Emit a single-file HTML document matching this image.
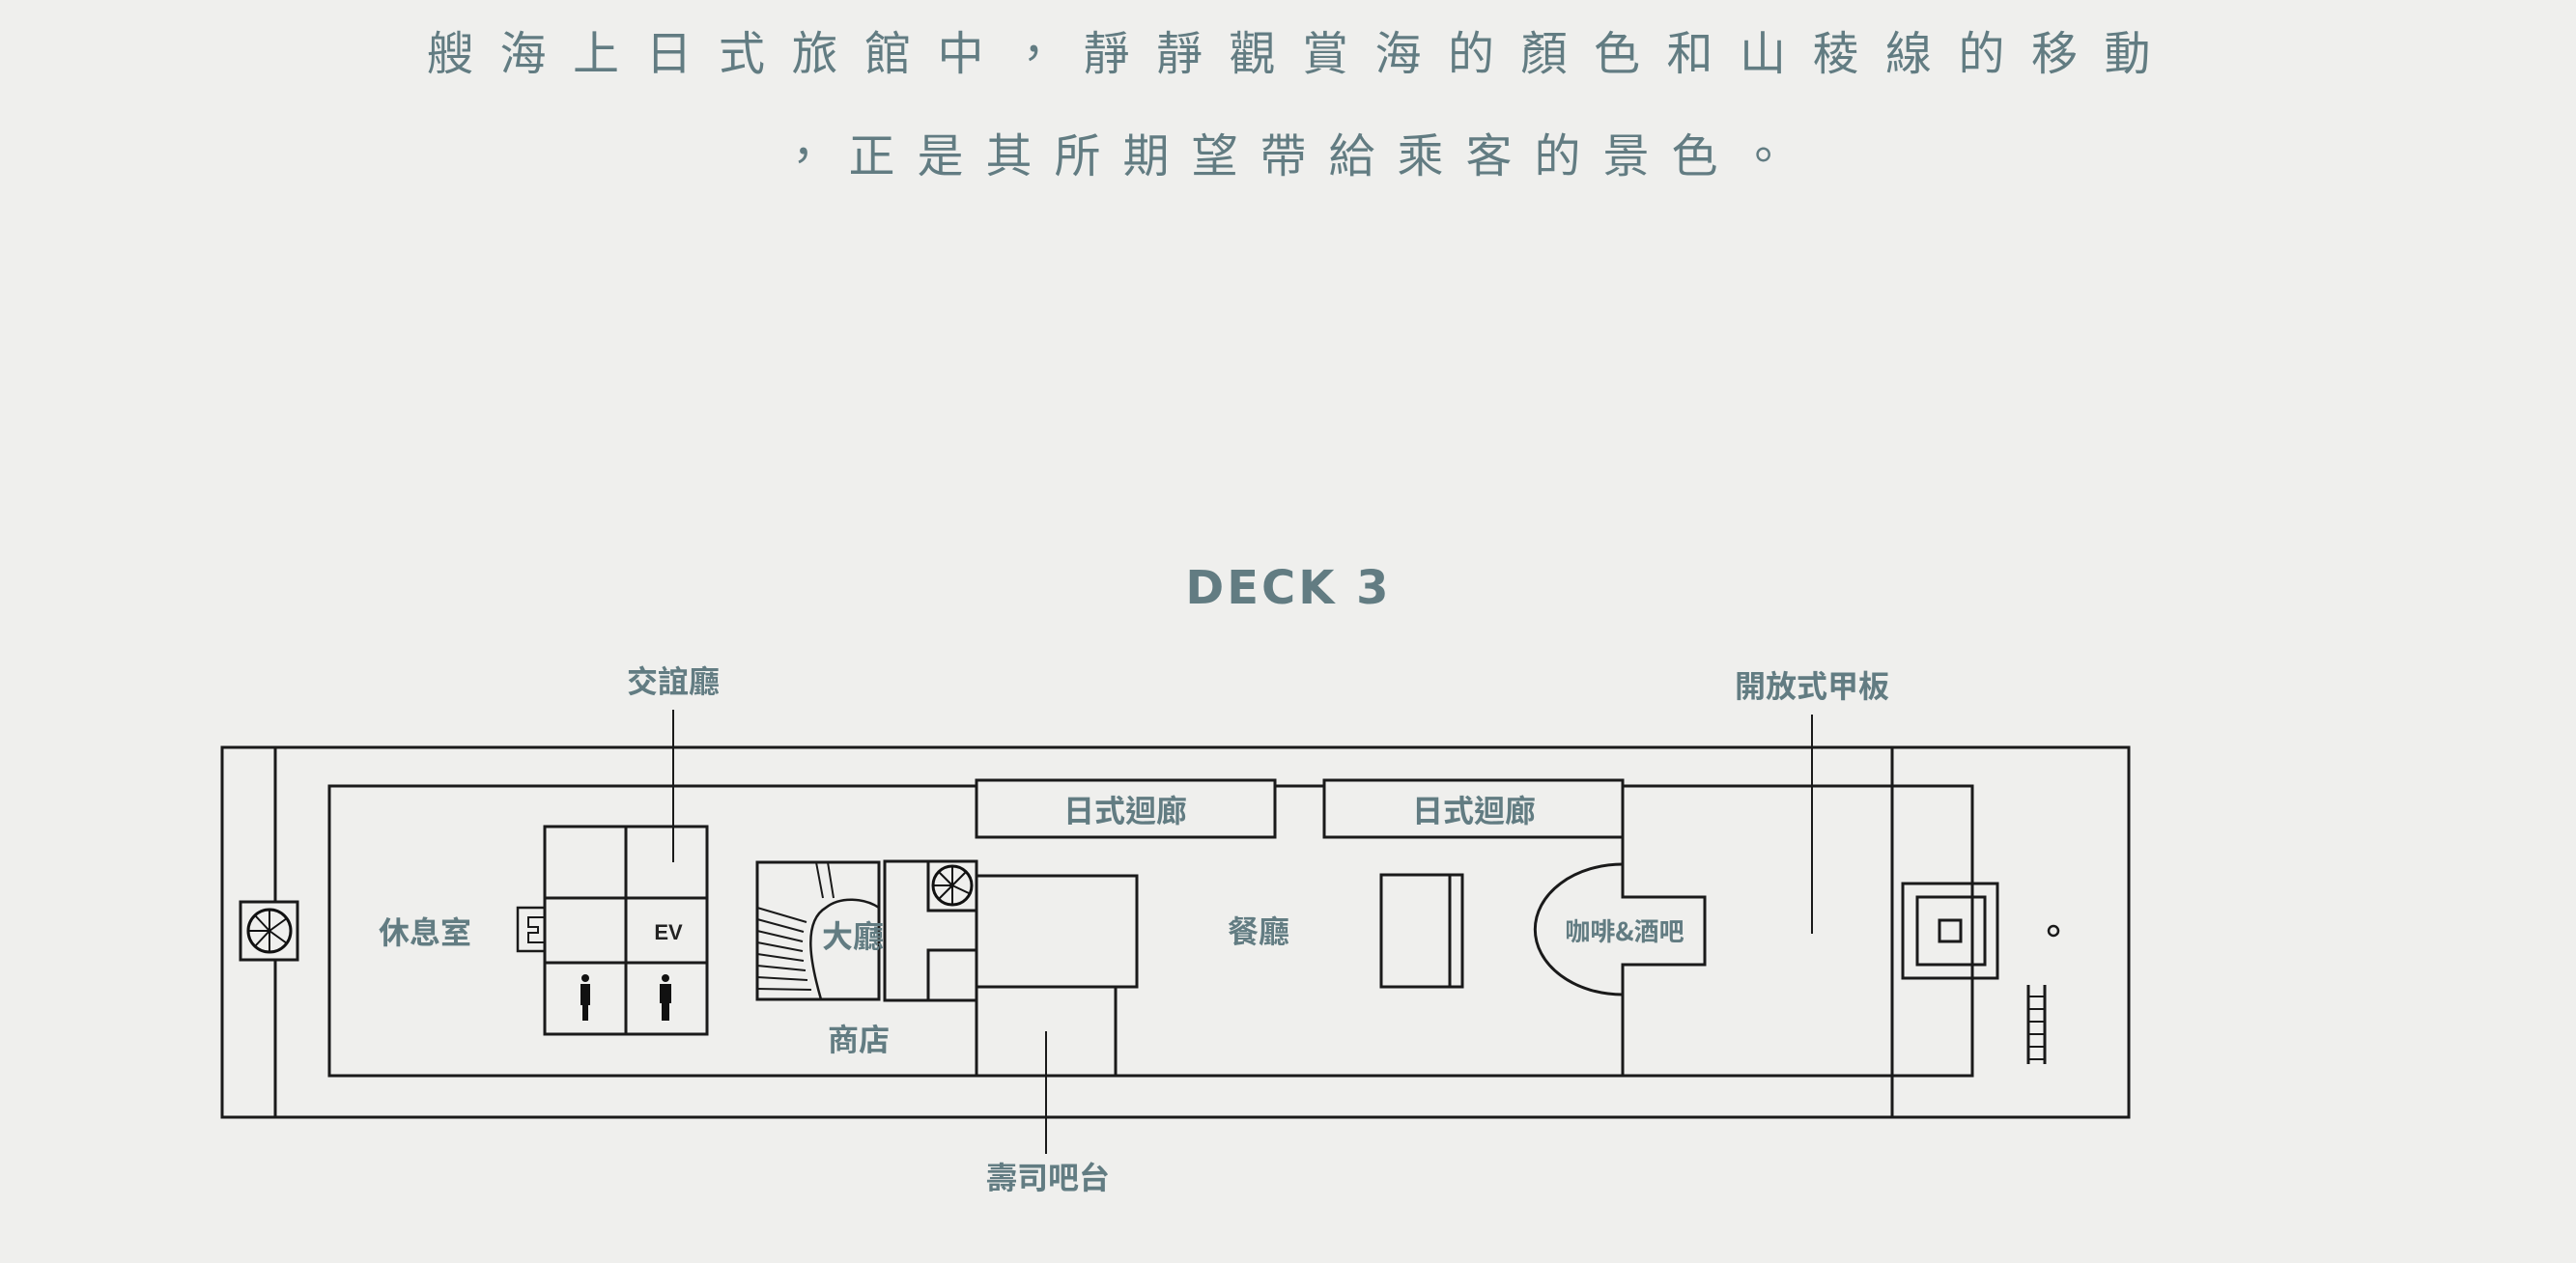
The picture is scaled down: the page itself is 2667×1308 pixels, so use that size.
<!DOCTYPE html>
<html><head><meta charset="utf-8"><style>
html,body{margin:0;padding:0;background:#efefed;}
svg{display:block}
text{font-family:"Noto Sans CJK TC","Liberation Sans",sans-serif;fill:#627c82;}
</style></head><body>
<svg width="2667" height="1308" viewBox="0 0 2667 1308" xmlns="http://www.w3.org/2000/svg">
<rect width="2667" height="1308" fill="#efefed"/>
<text x="1348" y="72" font-size="48" text-anchor="middle" letter-spacing="27.5" style="font-weight:400">艘海上日式旅館中，靜靜觀賞海的顏色和山稜線的移動</text>
<text x="1340" y="178" font-size="48" text-anchor="middle" letter-spacing="23" style="font-weight:400">，正是其所期望帶給乘客的景色。</text>
<text x="1334" y="625" font-size="48" font-weight="bold" text-anchor="middle" letter-spacing="3" style="font-family:'DejaVu Sans',sans-serif">DECK 3</text>
<g font-size="32" text-anchor="middle" font-weight="700">
<text x="697" y="717">交誼廳</text>
<text x="1876" y="722">開放式甲板</text>
<text x="1085" y="1231">壽司吧台</text>
</g>
<g stroke="#1a1a1a" fill="none" stroke-width="3">
<rect x="230" y="774" width="1974" height="383"/>
<line x1="285" y1="774" x2="285" y2="1157"/>
<line x1="1959" y1="774" x2="1959" y2="1157"/>
<path d="M1011 814 H341 V1114 H2042 V814 H1680"/>
<line x1="1320" y1="814" x2="1371" y2="814"/>
<rect x="1011" y="808" width="309" height="59" fill="#efefed"/>
<rect x="1371" y="808" width="309" height="59" fill="#efefed"/>
<rect x="249" y="934" width="59" height="60" fill="#efefed"/>
<rect x="564" y="856" width="168" height="215"/>
<line x1="648" y1="856" x2="648" y2="1071"/>
<line x1="564" y1="930" x2="732" y2="930"/>
<line x1="564" y1="997" x2="732" y2="997"/>
<path d="M564 940 H536 V985 H564" stroke-width="2.5"/>
<path d="M564 950 H547 V960 H557 V966 H547 V976 H564" stroke-width="2"/>
<rect x="784" y="893" width="126" height="142"/>
<path d="M845 893 L852 930 M857 893 L863 930" stroke-width="2"/>
<path d="M850 1035 C840 1000 830 955 855 940 C870 928 895 930 910 940" stroke-width="2.5"/>
<g stroke-width="2"><line x1="784" y1="940" x2="835" y2="955"/><line x1="784" y1="952" x2="832" y2="965"/><line x1="784" y1="964" x2="831" y2="975"/><line x1="784" y1="976" x2="831" y2="985"/><line x1="784" y1="988" x2="832" y2="995"/><line x1="784" y1="1000" x2="834" y2="1005"/><line x1="784" y1="1012" x2="836" y2="1015"/><line x1="784" y1="1024" x2="840" y2="1025"/></g>
<rect x="916" y="892" width="95" height="144"/>
<rect x="961" y="892" width="50" height="51"/>
<rect x="961" y="984" width="50" height="52"/>
<path d="M1011 907 H1177 V1022 H1011"/>
<rect x="1011" y="1022" width="144" height="92"/>
<rect x="1430" y="906" width="84" height="116"/>
<line x1="1501" y1="906" x2="1501" y2="1022"/>
<line x1="1680" y1="867" x2="1680" y2="895"/>
<line x1="1680" y1="1030" x2="1680" y2="1114"/>
<path d="M1680 895 A90 67 0 0 0 1680 1030"/>
<path d="M1680 895 V929 H1765 V999 H1680 V1030"/>
<rect x="1970" y="915" width="98" height="98"/>
<rect x="1985" y="929" width="70" height="70"/>
<rect x="2008" y="953" width="22" height="22"/>
<circle cx="2126" cy="964" r="5" stroke-width="2.5"/>
<line x1="2100" y1="1020" x2="2100" y2="1102"/><line x1="2117" y1="1020" x2="2117" y2="1102"/>
<g stroke-width="2"><line x1="2100" y1="1032" x2="2117" y2="1032"/><line x1="2100" y1="1045" x2="2117" y2="1045"/><line x1="2100" y1="1058" x2="2117" y2="1058"/><line x1="2100" y1="1071" x2="2117" y2="1071"/><line x1="2100" y1="1084" x2="2117" y2="1084"/><line x1="2100" y1="1097" x2="2117" y2="1097"/></g>
<g stroke-width="2"><line x1="697" y1="735" x2="697" y2="893"/><line x1="1876" y1="740" x2="1876" y2="967"/><line x1="1083" y1="1068" x2="1083" y2="1195"/></g>
</g>
<g stroke="#111" fill="none" stroke-width="3">
<circle cx="279" cy="964" r="22"/>
<g stroke-width="2"><line x1="279" y1="964" x2="279" y2="942"/><line x1="279" y1="964" x2="264" y2="948"/><line x1="279" y1="964" x2="257" y2="964"/><line x1="279" y1="964" x2="264" y2="980"/><line x1="279" y1="964" x2="279" y2="986"/><line x1="279" y1="964" x2="297" y2="951"/><line x1="279" y1="964" x2="297" y2="977"/></g>
<circle cx="986" cy="917" r="20"/>
<g stroke-width="2"><line x1="986" y1="917" x2="986" y2="897"/><line x1="986" y1="917" x2="972" y2="903"/><line x1="986" y1="917" x2="966" y2="917"/><line x1="986" y1="917" x2="972" y2="931"/><line x1="986" y1="917" x2="986" y2="937"/><line x1="986" y1="917" x2="1000" y2="903"/><line x1="986" y1="917" x2="1003" y2="925"/></g>
</g>
<g fill="#111">
<circle cx="606" cy="1013" r="4"/><path d="M601 1019 h10 v22 h-2 v16 h-6 v-16 h-2 z"/>
<circle cx="689" cy="1013" r="4"/><path d="M683 1019 h12 v20 h-2 v18 h-8 v-18 h-2 z"/>
</g>
<g font-size="32" text-anchor="middle" font-weight="700">
<text x="440" y="977">休息室</text>
<text x="692" y="973" font-size="22" style="fill:#222;font-family:'Liberation Sans',sans-serif">EV</text>
<text x="883" y="981">大廳</text>
<text x="889" y="1088">商店</text>
<text x="1165" y="851">日式迴廊</text>
<text x="1526" y="851">日式迴廊</text>
<text x="1303" y="976">餐廳</text>
<text x="1682" y="974" font-size="26">咖啡&amp;酒吧</text>
</g>
</svg>
</body></html>
